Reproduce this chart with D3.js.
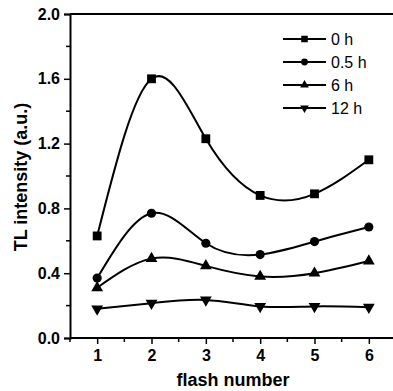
<!DOCTYPE html>
<html>
<head>
<meta charset="utf-8">
<script src="https://cdn.jsdelivr.net/npm/d3@7"></script>
<style>
  html, body { margin: 0; padding: 0; background: #fff; }
  svg { display: block; font-family: Arial, "Liberation Sans", sans-serif; }
</style>
</head>
<body>
<figure id="cc" style="margin:0"></figure>
<script>
// data
const flashes = [1, 2, 3, 4, 5, 6];
const series0h = [0.63, 1.60, 1.23, 0.88, 0.89, 1.10];
const series05h = [0.37, 0.77, 0.585, 0.515, 0.595, 0.685];
const series6h = [0.31, 0.49, 0.445, 0.38, 0.40, 0.475];
const series12h = [0.18, 0.215, 0.235, 0.195, 0.195, 0.19];
const seriesNames = ['0 h', '0.5 h', '6 h', '12 h'];
const yTicks = [0.0, 0.4, 0.8, 1.2, 1.6, 2.0];

const width = 393;
const height = 391;
const margin = { top: 14, right: -3, bottom: 53, left: 70 };

const series = [
  { name: seriesNames[0], values: series0h, symbol: d3.symbolSquare, rot: 0, size: 78 },
  { name: seriesNames[1], values: series05h, symbol: d3.symbolCircle, rot: 0, size: 66 },
  { name: seriesNames[2], values: series6h, symbol: d3.symbolTriangle, rot: 0, size: 60 },
  { name: seriesNames[3], values: series12h, symbol: d3.symbolTriangle, rot: 180, size: 60 }
];

const x = d3.scaleLinear().domain([0.5, 6.5]).range([margin.left, width - margin.right]);
const y = d3.scaleLinear().domain([0, 2]).range([height - margin.bottom, margin.top]);

const svg = d3.select('figure#cc')
  .append('svg')
  .attr('width', width)
  .attr('height', height)
  .attr('viewBox', `0 0 ${ width } ${ height }`);

// frame: top line only (right side is cut off)
svg.append('line')
  .attr('x1', x(0.5)).attr('x2', width)
  .attr('y1', y(2)).attr('y2', y(2))
  .attr('stroke', '#000').attr('stroke-width', 2);

// x axis
const xAxis = svg.append('g')
  .attr('transform', `translate(0,${ y(0) })`)
  .call(d3.axisBottom(x).tickValues(flashes).tickFormat(d3.format('d')).tickSize(6).tickPadding(6));
xAxis.append('g')
  .selectAll('line')
  .data(d3.range(0.5, 7, 1))
  .join('line')
  .attr('x1', d => x(d)).attr('x2', d => x(d))
  .attr('y1', 0).attr('y2', 4)
  .attr('stroke', '#000').attr('stroke-width', 1.5);

// y axis
const yAxis = svg.append('g')
  .attr('transform', `translate(${ x(0.5) },0)`)
  .call(d3.axisLeft(y).tickValues(yTicks).tickFormat(d3.format('.1f')).tickSize(6).tickPadding(4));
yAxis.append('g')
  .selectAll('line')
  .data([0.2, 0.6, 1.0, 1.4, 1.8])
  .join('line')
  .attr('x1', 0).attr('x2', -4)
  .attr('y1', d => y(d)).attr('y2', d => y(d))
  .attr('stroke', '#000').attr('stroke-width', 1.5);

[xAxis, yAxis].forEach(a => {
  a.select('.domain').attr('stroke-width', 2);
  a.selectAll('.tick line').attr('stroke-width', 1.5);
  a.selectAll('.tick text')
    .attr('font-size', 16)
    .attr('font-weight', 'bold')
    .attr('font-family', 'Arial, "Liberation Sans", sans-serif')
    .attr('fill', '#000');
});
xAxis.select('.domain').attr('d', `M${ x(0.5) },0H${ width + 5 }`);

// axis titles
svg.append('text')
  .attr('x', 233).attr('y', 386)
  .attr('text-anchor', 'middle')
  .attr('font-size', 18).attr('font-weight', 'bold')
  .text('flash number');

svg.append('text')
  .attr('transform', `translate(27,177) rotate(-90)`)
  .attr('text-anchor', 'middle')
  .attr('font-size', 18).attr('font-weight', 'bold')
  .text('TL intensity (a.u.)');

// curves
const line = d3.line()
  .x((d, i) => x(flashes[i]))
  .y(d => y(d))
  .curve(d3.curveNatural);

const gSeries = svg.append('g');
series.forEach(s => {
  gSeries.append('path')
    .attr('d', line(s.values))
    .attr('fill', 'none')
    .attr('stroke', '#000')
    .attr('stroke-width', 2);
  gSeries.append('g')
    .selectAll('path')
    .data(s.values)
    .join('path')
    .attr('transform', (d, i) => `translate(${ x(flashes[i]) },${ y(d) }) rotate(${ s.rot })`)
    .attr('d', d3.symbol().type(s.symbol).size(s.size))
    .attr('fill', '#000');
});

// legend
const legend = svg.append('g').attr('transform', 'translate(283,39)');
series.forEach((s, i) => {
  const row = legend.append('g').attr('transform', `translate(0,${ i * 23 })`);
  row.append('line')
    .attr('x1', 0).attr('x2', 43)
    .attr('stroke', '#000').attr('stroke-width', 2);
  row.append('path')
    .attr('transform', `translate(21.5,0) rotate(${ s.rot })`)
    .attr('d', d3.symbol().type(s.symbol).size(s.size * 0.55))
    .attr('fill', '#000');
  row.append('text')
    .attr('x', 48).attr('dy', '0.35em')
    .attr('font-size', 16)
    .text(s.name);
});
</script>
</body>
</html>
